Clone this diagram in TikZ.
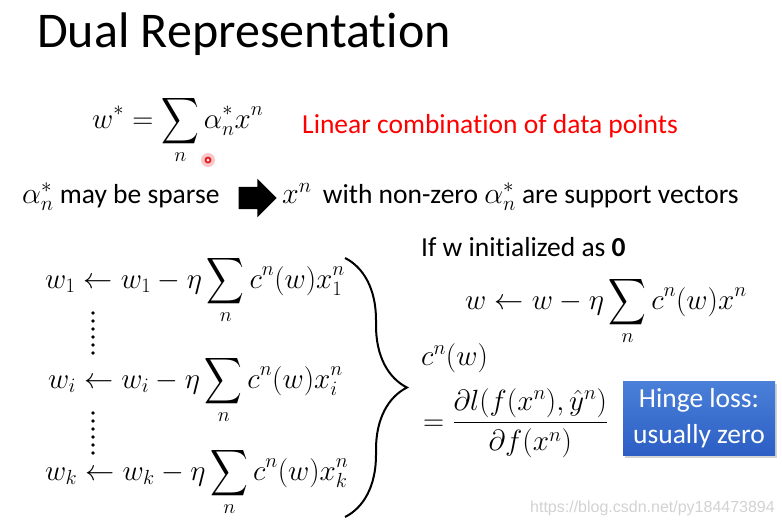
\documentclass[tikz,border=0pt]{standalone}
\usepackage{fix-cm}
\usepackage{exscale}
\usepackage{graphicx}
\usepackage{fontspec}
\setmainfont{Carlito}[Ligatures=NoCommon]
\newfontfamily\urlfont{Liberation Sans}
\usetikzlibrary{shapes.arrows,positioning,decorations.pathreplacing,shadows}
\definecolor{hingetop}{RGB}{74,128,216}
\definecolor{hingebot}{RGB}{44,94,196}
\definecolor{laserred}{RGB}{235,30,40}
\newcommand{\bigsum}{\mathop{\vcenter{\hbox{\scalebox{1.05}[1.3]{$\displaystyle\sum$}}}}\limits}
\newcommand{\mth}[1]{{\fontsize{30}{33}\selectfont$#1$}}

\begin{document}
\begin{tikzpicture}[x=1pt, y=-1pt, every node/.style={inner sep=0pt, font=\fontsize{27.5}{33}\selectfont}]
    \tikzset{eqn/.style={font=\fontsize{29.2}{35}\selectfont},
        hinge/.style={rectangle, top color=hingetop, bottom color=hingebot, minimum width=152pt, minimum height=74pt, text=white, align=center, font=\fontsize{27.5}{36}\selectfont, drop shadow={opacity=0.35, shadow xshift=2pt, shadow yshift=-2pt}}}
    \useasboundingbox (0,0) rectangle (782,525);
    % title
    \node[anchor=base west, font=\fontsize{50}{59}\selectfont] (title) at (37,47) {Dual Representation};
    % dual form of w
    \node[eqn, anchor=base west] (wstar) at (92,128) {$\displaystyle w^* = \bigsum_n \alpha_n^* x^n$};
    \node[anchor=base west, text=red] (lincomb) at (302,133) {Linear combination of data points};
    \fill[laserred!25] (208,160) circle (7);
    \fill[laserred] (208,160) circle (3.5);
    \fill[white] (208,160) circle (1.5);
    % sparse alpha
    \node[anchor=base west] (sparse) at (22,203) {\mth{\alpha_n^*} may be sparse};
    \node[single arrow, fill=black, minimum height=38pt, inner ysep=11pt, inner xsep=0pt, single arrow head extend=8pt] (imply) at (252,198) {};
    \node[anchor=base west] (support) at (282,203) {\mth{x^n\,} with non-zero \mth{\alpha_n^*} are support vectors};
    % component-wise updates
    \node[eqn, anchor=base west] (upd1) at (45,288) {$\displaystyle w_1 \leftarrow w_1 - \eta \bigsum_n c^n(w) x_1^n$};
    \node[eqn, anchor=base west] (updi) at (48,388) {$\displaystyle w_i \leftarrow w_i - \eta \bigsum_n c^n(w) x_i^n$};
    \node[eqn, anchor=base west] (updk) at (45,480) {$\displaystyle w_k \leftarrow w_k - \eta \bigsum_n c^n(w) x_k^n$};
    \foreach \y in {313,321,...,353} \fill (93,\y) circle (1.8);
    \foreach \y in {413,421,...,453} \fill (93,\y) circle (1.8);
    \coordinate (bracetop) at (345,258);
    \coordinate (bracebot) at (345,517);
    \draw[decorate, decoration={brace, amplitude=62pt}, line width=2pt] (bracetop) -- (bracebot);
    % right column
    \node[anchor=base west] (init) at (421,256) {If w initialized as \textbf{0}};
    \node[eqn, anchor=base west] (wupd) at (465,309) {$\displaystyle w \leftarrow w - \eta \bigsum_n c^n(w) x^n$};
    \node[eqn, anchor=base west] (cnw) at (421,365) {$c^n(w)$};
    \node[eqn, anchor=west] (grad) at (423,423) {$\displaystyle = \frac{\partial l(f(x^n),\hat{y}^n)}{\partial f(x^n)}$};
    \node[hinge] (hinge) at (699,418.5) {Hinge loss:\\usually zero};
    \node[anchor=east, text=gray!35, font=\urlfont\fontsize{16}{19}\selectfont] (mark) at (775,508) {https://blog.csdn.net/py184473894};
\end{tikzpicture}
\end{document}
